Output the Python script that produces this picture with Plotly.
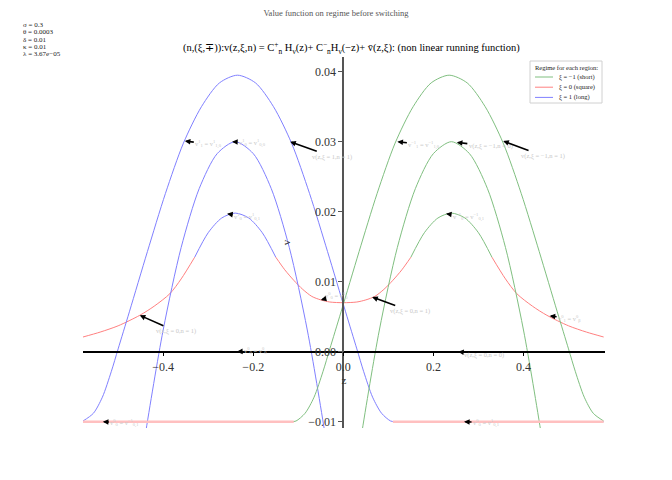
import plotly.graph_objects as go

# ---------------- data ----------------
# xi = 1 (long), blue
z_long_a = [-0.578, -0.555, -0.535, -0.515, -0.50, -0.475, -0.435, -0.395, -0.355, -0.315, -0.275,
            -0.235, -0.195, -0.155, -0.115, -0.075, -0.035, 0.005, 0.030, 0.045, 0.065, 0.085,
            0.105, 0.115, 0.25, 0.40, 0.578]
v_long_a = [-0.0099, -0.0088, -0.0065, -0.0028, 0.0004, 0.0057, 0.0143, 0.0226, 0.0298, 0.0350, 0.0384,
            0.0395, 0.0384, 0.0350, 0.0298, 0.0226, 0.0143, 0.0057, 0.0004, -0.0028, -0.0065, -0.0088,
            -0.0099, -0.0100, -0.0100, -0.0100, -0.0100]
z_long_b = [-0.46, -0.44, -0.40, -0.36, -0.32, -0.28, -0.24, -0.20, -0.16, -0.12, -0.08, -0.04, -0.02]
v_long_b = [-0.0208, -0.0120, 0.0031, 0.0149, 0.0233, 0.0283, 0.0300, 0.0283, 0.0233, 0.0149, 0.0031,
            -0.0120, -0.0208]
z_long_c = [-0.33, -0.30, -0.27, -0.24, -0.21, -0.18, -0.15]
v_long_c = [0.0135, 0.0170, 0.0191, 0.0198, 0.0191, 0.0170, 0.0135]

# xi = -1 (short), green
z_short_a = [-0.578, -0.40, -0.25, -0.115, -0.105, -0.085, -0.065, -0.045, -0.030, -0.005, 0.035,
             0.075, 0.115, 0.155, 0.195, 0.235, 0.275, 0.315, 0.355, 0.395, 0.435, 0.475, 0.50,
             0.515, 0.535, 0.555, 0.578]
v_short_a = [-0.0100, -0.0100, -0.0100, -0.0100, -0.0099, -0.0088, -0.0065, -0.0028, 0.0004, 0.0057,
             0.0143, 0.0226, 0.0298, 0.0350, 0.0384, 0.0395, 0.0384, 0.0350, 0.0298, 0.0226, 0.0143,
             0.0057, 0.0004, -0.0028, -0.0065, -0.0088, -0.0099]
z_short_b = [0.02, 0.04, 0.08, 0.12, 0.16, 0.20, 0.24, 0.28, 0.32, 0.36, 0.40, 0.44, 0.46]
v_short_b = [-0.0208, -0.0120, 0.0031, 0.0149, 0.0233, 0.0283, 0.0300, 0.0283, 0.0233, 0.0149, 0.0031,
             -0.0120, -0.0208]
z_short_c = [0.15, 0.18, 0.21, 0.24, 0.27, 0.30, 0.33]
v_short_c = [0.0135, 0.0170, 0.0191, 0.0198, 0.0191, 0.0170, 0.0135]

# xi = 0 (square), red: the visible pieces (the tops coincide with the small humps)
z_square_left = [-0.578, -0.54, -0.50, -0.452, -0.42, -0.385, -0.36, -0.33]
v_square_left = [0.0021, 0.0028, 0.0037, 0.0052, 0.0065, 0.0083, 0.0104, 0.0135]
z_square_mid = [-0.15, -0.13, -0.11, -0.09, -0.07, -0.05, -0.03, 0.00, 0.03, 0.05, 0.07, 0.09,
                0.11, 0.13, 0.15]
v_square_mid = [0.0135, 0.0117, 0.0102, 0.0089, 0.0079, 0.0074, 0.0071, 0.0070, 0.0071,
                0.0074, 0.0079, 0.0089, 0.0102, 0.0117, 0.0135]
z_square_right = [0.33, 0.36, 0.385, 0.42, 0.452, 0.50, 0.54, 0.578]
v_square_right = [0.0135, 0.0104, 0.0083, 0.0065, 0.0052, 0.0037, 0.0028, 0.0021]
z_floor_left = [-0.578, -0.11]
z_floor_right = [0.11, 0.578]
v_floor = [-0.01, -0.01]

x_ticks = [-0.4, -0.2, 0.0, 0.2, 0.4]
y_ticks = [-0.01, 0.00, 0.01, 0.02, 0.03, 0.04]
x_range = [-0.578, 0.581]
y_range = [-0.0109, 0.0421]

params = ["σ = 0.3", "θ = 0.0003", "δ = 0.01", "κ = 0.01", "λ = 3.67e−05"]
legend_title = "Regime for each region:"
legend_labels = ["ξ = −1 (short)", "ξ = 0 (square)", "ξ = 1 (long)"]

# ---------------- style ----------------
BLUE = "rgb(128,128,255)"
GREEN = "rgb(128,191,128)"
RED = "rgb(255,128,128)"
PINK = "rgb(255,192,192)"
FONT = "Liberation Serif"

W, H = 672, 480
OFF = 8                      # page offset of the figure inside the browser body
L, T = 83, 57                # plot area top-left (page pixels)
PW, PH = 522, 371            # plot area size


def px(xp):
    return (xp - L) / PW


def py(yp):
    return (T + PH - yp) / PH


fig = go.Figure()


def add_line(x, y, color, width=1.0, name=None):
    fig.add_trace(go.Scatter(x=x, y=y, mode="lines", name=name, showlegend=False,
                             line=dict(color=color, width=width, shape="spline", smoothing=0.8),
                             hoverinfo="skip"))


add_line(z_square_left, v_square_left, RED, name="ξ = 0 (square)")
add_line(z_square_mid, v_square_mid, RED, name="ξ = 0 (square)")
add_line(z_square_right, v_square_right, RED, name="ξ = 0 (square)")
add_line(z_long_a, v_long_a, BLUE, name="ξ = 1 (long)")
add_line(z_long_b, v_long_b, BLUE, name="ξ = 1 (long)")
add_line(z_long_c, v_long_c, BLUE, name="ξ = 1 (long)")
add_line(z_short_a, v_short_a, GREEN, name="ξ = −1 (short)")
add_line(z_short_b, v_short_b, GREEN, name="ξ = −1 (short)")
add_line(z_short_c, v_short_c, GREEN, name="ξ = −1 (short)")
add_line(z_floor_left, v_floor, PINK, width=2.5)
add_line(z_floor_right, v_floor, PINK, width=2.5)

x_pos = (0 - x_range[0]) / (x_range[1] - x_range[0])
y_pos = (0 - y_range[0]) / (y_range[1] - y_range[0])

ml, mt = L - OFF, T - OFF
mr, mb = W - ml - PW, H - mt - PH

fig.update_layout(
    width=W, height=H,
    margin=dict(l=ml, r=mr, t=mt, b=mb, autoexpand=False),
    paper_bgcolor="white", plot_bgcolor="white",
    font=dict(family=FONT, color="#333"),
    showlegend=False,
    title=dict(text="Value function on regime before switching", x=(336 - OFF) / W, xanchor="center",
               y=1 - (13 - OFF) / H, yanchor="middle", font=dict(size=8.5, color="#555", family=FONT)),
    xaxis=dict(range=x_range, tickvals=x_ticks, tickformat=".1f", showgrid=False, zeroline=False,
               showline=True, linecolor="black", linewidth=1.5, ticks="outside", ticklen=4,
               tickcolor="black", anchor="free", position=y_pos,
               tickfont=dict(size=12, color="#333", family=FONT),
               title=dict(text="z", standoff=0, font=dict(size=11, color="#333", family=FONT))),
    yaxis=dict(range=y_range, tickvals=y_ticks, tickformat=".2f", showgrid=False, zeroline=False,
               showline=True, linecolor="#555", linewidth=2, ticks="outside", ticklen=4,
               tickcolor="#555", anchor="free", position=x_pos,
               tickfont=dict(size=12, color="#333", family=FONT),
               title=dict(text="v", standoff=14, font=dict(size=11, color="#333", family=FONT))),
)

ann = []
# subtitle
ann.append(dict(x=px(351), y=py(48), xref="paper", yref="paper", showarrow=False,
                text="(n,(ξ,∓)):v(z,ξ,n) = C<sup>+</sup><sub>n</sub> H<sub>ν</sub>(z)+ "
                     "C<sup>−</sup><sub>n</sub>H<sub>ν</sub>(−z)+ v̄(z,ξ): (non linear running function)",
                font=dict(size=10.5, color="black", family=FONT), xanchor="center", yanchor="middle"))
# parameters
for i, t in enumerate(params):
    ann.append(dict(x=px(21), y=py(25 + 7.3 * i), xref="paper", yref="paper", showarrow=False,
                    text=t, font=dict(size=7, color="#222", family=FONT),
                    xanchor="left", yanchor="middle"))

# faint labels with arrows
G = "#c8c8c8"
labels = [
    (-0.352, 0.0301, "v<sup>1</sup><sub>1</sub> = v<sup>1</sup><sub>1,0</sub>", 24, 3),
    (-0.247, 0.0300, "v<sup>1</sup><sub>0</sub> = v<sup>1</sup><sub>0,0</sub>", 20, 1),
    (-0.118, 0.0300, "v(z,ξ = 1,n = 1)", 42, 15),
    (-0.258, 0.0197, "v<sup>1</sup><sub>0</sub> = v<sup>1</sup><sub>0,1</sub>", 20, 3),
    (0.120, 0.0300, "v<sup>−1</sup><sub>1</sub> = v<sup>−1</sup><sub>1,0</sub>", 27, 3),
    (0.252, 0.0299, "v(z,ξ = −1,n = 0)", 34, 4),
    (0.355, 0.0301, "v(z,ξ = −1,n = 1)", 40, 15),
    (0.228, 0.0197, "v<sup>−1</sup><sub>0</sub> = v<sup>−1</sup><sub>0,1</sub>", 22, 3),
    (-0.452, 0.0052, "v(z,ξ = 0,n = 1)", 36, 16),
    (0.064, 0.0078, "v(z,ξ = 0,n = 1)", 38, 14),
    (-0.050, 0.0074, "v<sup>0</sup><sub>0</sub> = v<sup>0</sup><sub>0</sub>", 16, -4),
    (0.458, 0.0051, "v<sup>0</sup><sub>1</sub> = v<sup>0</sup><sub>β</sub>", 20, 2),
    (-0.236, 0.0000, "v<sup>0</sup><sub>0</sub> = v<sup>0</sup><sub>0</sub>", 18, -1),
    (0.255, 0.0000, "v(z,ξ = 0,n = 0)", 26, 3),
    (-0.534, -0.0100, "v<sup>0</sup><sub>0</sub> = v<sup>−1</sup><sub>0,1</sub>", 22, 1),
    (0.268, -0.0100, "v<sup>0</sup><sub>0</sub> = v<sup>1</sup><sub>0,1</sub>", 22, 1),
]
for (x, y, t, ax, ay) in labels:
    ann.append(dict(x=x, y=y, xref="x", yref="y", text=t, showarrow=True, ax=ax, ay=ay,
                    arrowhead=2, arrowsize=0.7, arrowwidth=1.6, arrowcolor="black", standoff=0,
                    font=dict(size=6.5, color=G, family=FONT)))

# legend (drawn by hand to match compact matplotlib legend)
ann.append(dict(x=px(566), y=py(67), xref="paper", yref="paper", showarrow=False, text=legend_title,
                font=dict(size=6.5, color="#222", family=FONT), xanchor="center", yanchor="middle"))
leg_colors = [GREEN, RED, BLUE]
shapes = [dict(type="rect", xref="paper", yref="paper", x0=px(530), x1=px(602), y0=py(103), y1=py(61),
               line=dict(color="#d0d0d0", width=1), fillcolor="rgba(255,255,255,0.8)", layer="above")]
for i, (lab, c) in enumerate(zip(legend_labels, leg_colors)):
    yy = 77 + 10.2 * i
    shapes.append(dict(type="line", xref="paper", yref="paper", x0=px(535), x1=px(553),
                       y0=py(yy), y1=py(yy), line=dict(color=c, width=1), layer="above"))
    ann.append(dict(x=px(557), y=py(yy), xref="paper", yref="paper", showarrow=False, text=lab,
                    font=dict(size=6.5, color="#222", family=FONT), xanchor="left", yanchor="middle"))

fig.update_layout(annotations=ann, shapes=shapes)
fig.write_html("out.html")
